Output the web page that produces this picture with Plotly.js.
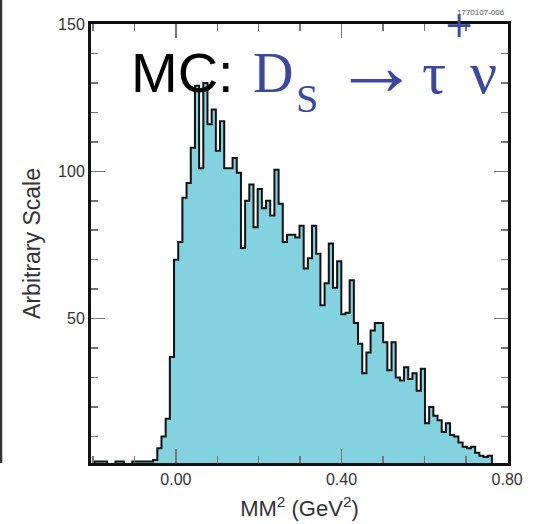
<!DOCTYPE html>
<html>
<head>
<meta charset="utf-8">
<script src="https://cdn.plot.ly/plotly-3.0.1.min.js"></script>
<style>
  html, body { margin: 0; padding: 0; background: #fff; }
  #chart { width: 539px; height: 524px; }
</style>
</head>
<body>
<div id="chart"></div>
<script>
// ---- data ----
var binStart = -0.1964;      // left edge of first bin, GeV^2
var binWidth = 0.0101;       // bin width, GeV^2
// nearly empty tail below the peak
var tailCounts = [1.5, 1.5, 1.5, 0, 0, 1.5, 1.5, 0, 0, 1.5, 1.5, 1.5, 1.5, 1.5];
// main body of the MM^2 distribution
var mainCounts = [
  2, 6, 10, 16, 37, 70, 76, 91, 96, 108,
  129, 101, 130, 116, 121, 107, 117, 101, 101, 104.5,
  99.5, 74, 90, 95.5, 81, 94, 87.5, 90, 85, 100.5,
  89, 76, 78.5, 78.5, 77.5, 81.5, 67, 70.5, 81.5, 72,
  54.5, 62, 75.5, 60.5, 69.5, 51.5, 52, 63, 48.5, 41.5,
  31.5, 38.5, 46, 48.5, 48.5, 42, 32.5, 42, 30, 29,
  33.5, 29.5, 31.5, 25.5, 33, 14.5, 20, 17, 15.5, 11.5,
  14.5, 10.5, 10, 8, 6.5, 6, 6.5, 4.5, 3.5, 3,
  3.5
];
var xTickVals = [0, 0.4, 0.8];
var yTickVals = [50, 100, 150];

// ---- build step outline ----
var counts = tailCounts.concat(mainCounts);
var xs = [binStart], ys = [0];
for (var i = 0; i < counts.length; i++) {
  xs.push(binStart + i * binWidth);
  ys.push(counts[i]);
}
var xEnd = binStart + counts.length * binWidth;
xs.push(xEnd); ys.push(counts[counts.length - 1]);
xs.push(xEnd); ys.push(0);

var trace = {
  type: 'scatter', mode: 'lines', x: xs, y: ys,
  line: { shape: 'hv', color: '#111', width: 2 },
  fill: 'tozeroy', fillcolor: '#83d2e0',
  hoverinfo: 'skip', showlegend: false
};

// plot-area pixel helpers for annotation placement
var L = 91, T = 24, W = 417, H = 439;
function px(x) { return (x - L) / W; }
function py(y) { return (T + H - y) / H; }

var blue = '#3b48a0';
var serif = 'Liberation Serif, Times New Roman, serif';
var sans = 'Liberation Sans, Arial, Helvetica, sans-serif';

var annotations = [
  { text: '1770107-006', x: px(507), y: py(12), xanchor: 'right', font: { family: sans, size: 8, color: '#555' } },
  { text: 'MC:', x: px(182), y: py(72.6), font: { family: sans, size: 56, color: '#000' } },
  { text: 'D', x: px(273), y: py(73), font: { family: serif, size: 56, color: blue } },
  { text: 'S', x: px(307), y: py(98.5), font: { family: serif, size: 40, color: blue } },
  { text: '\u2192', x: px(375.5), y: py(66), font: { family: serif, size: 86, color: blue } },
  { text: '\u03C4', x: px(433.5), y: py(73), font: { family: serif, size: 60, color: blue } },
  { text: '+', x: px(458.5), y: py(24.5), font: { family: 'DejaVu Serif, serif', size: 36, color: blue } },
  { text: '\u03BD', x: px(483.5), y: py(73), font: { family: serif, size: 60, color: blue } }
].map(function (a) {
  return Object.assign({ xref: 'paper', yref: 'paper', showarrow: false,
    xanchor: 'center', yanchor: 'middle' }, a);
});

var axisCommon = {
  showgrid: false, zeroline: false,
  showline: true, linewidth: 3, linecolor: '#111', mirror: 'allticks',
  ticks: 'inside', ticklen: 14, tickwidth: 1.5, tickcolor: '#777',
  tickfont: { family: sans, size: 16, color: '#333' },
  automargin: false
};

var layout = {
  width: 539, height: 524,
  margin: { l: L, r: 539 - L - W, t: T, b: 524 - T - H },
  paper_bgcolor: '#fff', plot_bgcolor: '#fff',
  showlegend: false,
  xaxis: Object.assign({}, axisCommon, {
    range: [-0.205, 0.802],
    tickmode: 'array', tickvals: xTickVals, tickformat: '.2f',
    minor: { dtick: 0.1, tick0: 0, ticks: 'inside', ticklen: 7, tickwidth: 1.5, tickcolor: '#777' },
    title: { text: 'MM<sup>2</sup> (GeV<sup>2</sup>)', standoff: 14,
      font: { family: sans, size: 22, color: '#333' } }
  }),
  yaxis: Object.assign({}, axisCommon, {
    range: [1, 150],
    tickmode: 'array', tickvals: yTickVals,
    minor: { dtick: 10, tick0: 0, ticks: 'inside', ticklen: 7, tickwidth: 1.5, tickcolor: '#777' },
    title: { text: 'Arbitrary Scale', standoff: 12,
      font: { family: sans, size: 23, color: '#333' } }
  }),
  annotations: annotations,
  shapes: [
    { type: 'line', xref: 'paper', yref: 'paper', x0: px(1), x1: px(1), y0: py(0), y1: py(463),
      line: { color: '#333', width: 2.5 } }
  ]
};

Plotly.newPlot('chart', [trace], layout, { staticPlot: true, displayModeBar: false });
</script>
</body>
</html>
